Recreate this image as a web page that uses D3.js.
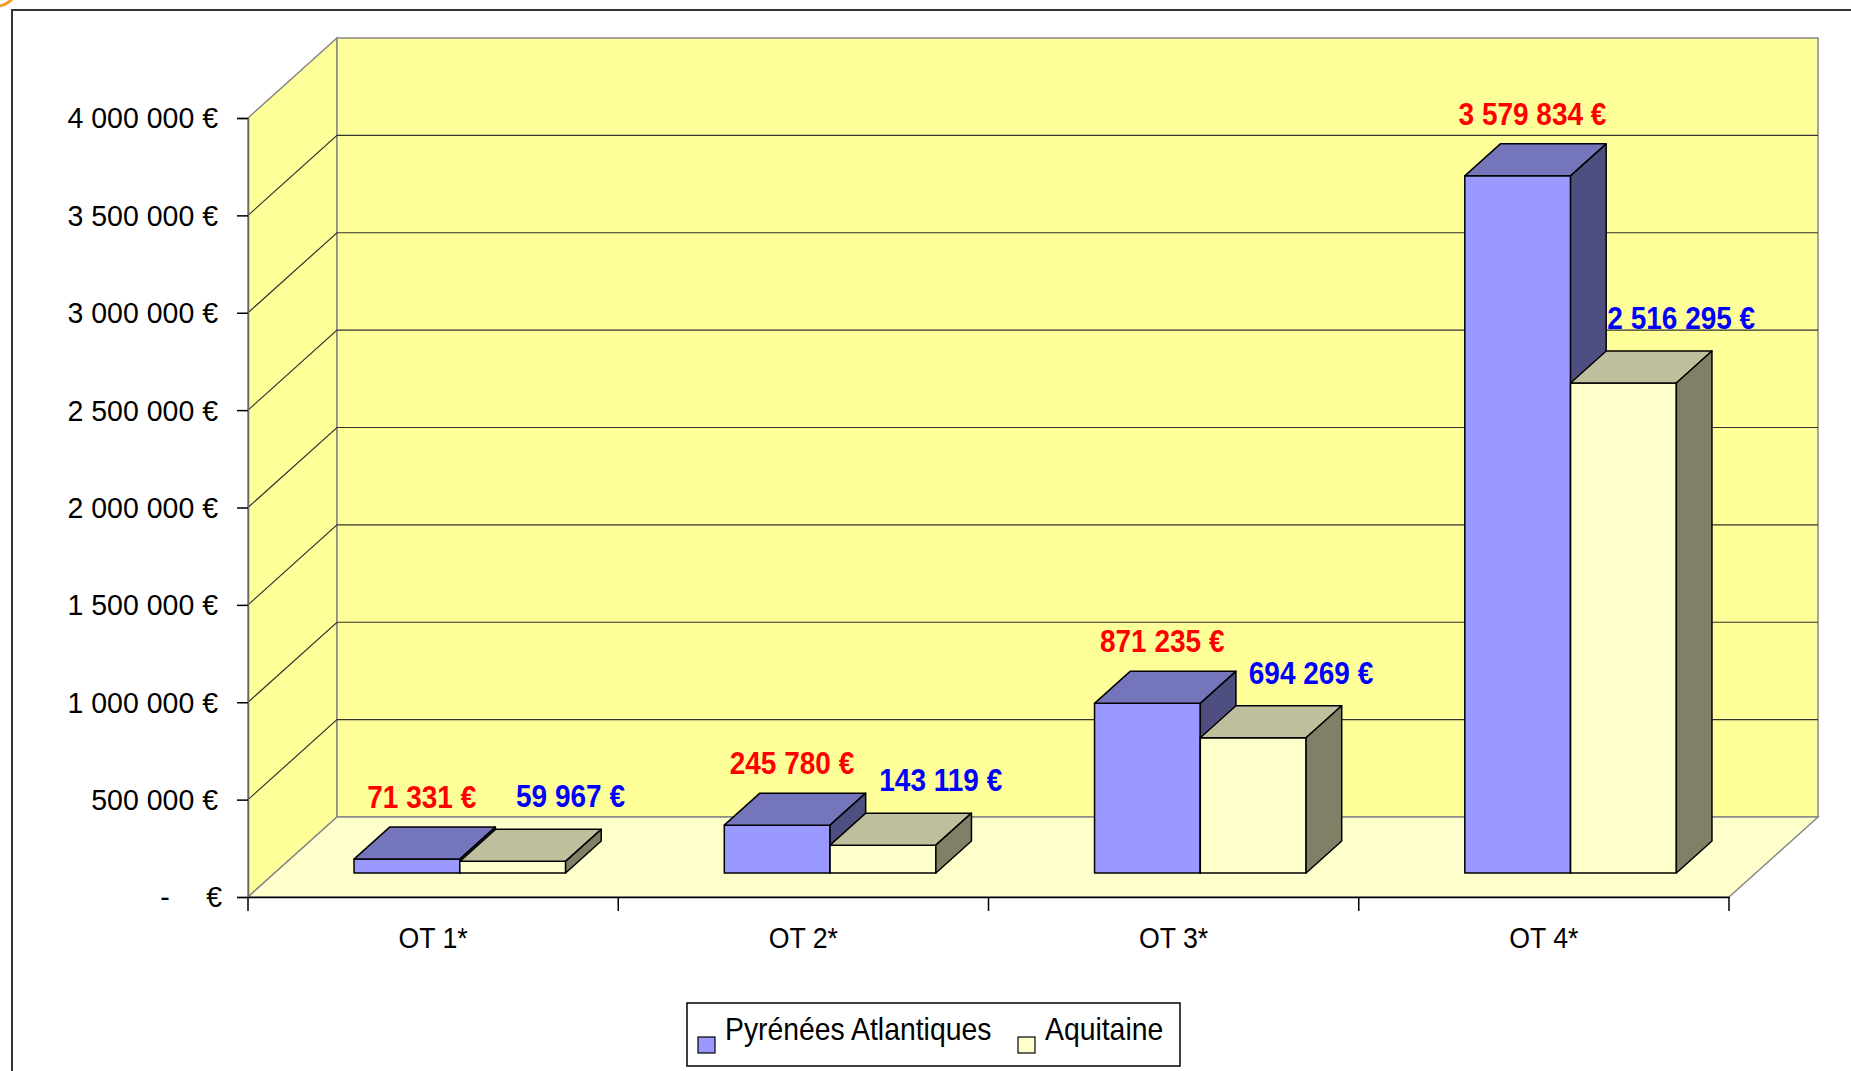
<!DOCTYPE html>
<html>
<head>
<meta charset="utf-8">
<script src="https://cdn.jsdelivr.net/npm/d3@7"></script>
<style>
  body { margin: 0; background: #fff; }
  text { font-family: "Liberation Sans", Arial, sans-serif; }
</style>
</head>
<body>
<div id="chart"></div>
<script>
// data
const categories = ["OT 1*", "OT 2*", "OT 3*", "OT 4*"];
const seriesNames = ["Pyrénées Atlantiques", "Aquitaine"];
const pyreneesValues = [71331, 245780, 871235, 3579834];
const aquitaineValues = [59967, 143119, 694269, 2516295];
const yTicks = [0, 500000, 1000000, 1500000, 2000000, 2500000, 3000000, 3500000, 4000000];

const width = 1851, height = 1071;
// front plane of the 3D box
const plotLeft = 248, plotRight = 1729, plotBottom = 897, plotTop = 118;
// depth offset of the box, bars sit between z0 and z1
const DX = 89, DY = 80;
const z0 = 0.3, z1 = 0.7;

const svg = d3.select("#chart")
    .append("svg")
    .attr("width", width)
    .attr("height", height);

// outer frame + little orange mark in the corner
svg.append("rect")
    .attr("x", 12).attr("y", 10)
    .attr("width", width + 20).attr("height", height + 20)
    .attr("fill", "none").attr("stroke", "#333").attr("stroke-width", 2);
svg.append("path")
    .attr("d", "M0,6 Q8,4 13,-2")
    .attr("fill", "none").attr("stroke", "#f39a2b").attr("stroke-width", 3);

const x = d3.scaleBand().domain(categories).range([plotLeft, plotRight]);
const xs = d3.scaleBand().domain(seriesNames).range([0, x.bandwidth()])
    .paddingInner(0).paddingOuter(0.75);
const y = d3.scaleLinear().domain([0, 4000000]).range([plotBottom, plotTop]);
const color = d3.scaleOrdinal().domain(seriesNames).range(["#9999FF", "#FFFFCC"]);
const topColor = d3.scaleOrdinal().domain(seriesNames).range(["#7575BB", "#BFBF9D"]);
const sideColor = d3.scaleOrdinal().domain(seriesNames).range(["#4E4E80", "#808066"]);
const labelColor = d3.scaleOrdinal().domain(seriesNames).range(["#FF0000", "#0000FF"]);

const locale = d3.formatLocale({ decimal: ",", thousands: " ", grouping: [3], currency: ["", " €"] });
const fmt = v => locale.format(",")(v) + " €";

const poly = pts => "M" + pts.map(p => p.join(",")).join("L") + "Z";
const yMax = y(4000000), y0 = y(0);

// walls and floor
svg.append("path")
    .attr("d", poly([[plotLeft, yMax], [plotLeft + DX, yMax - DY], [plotLeft + DX, y0 - DY], [plotLeft, y0]]))
    .attr("fill", "#FFFF99").attr("stroke", "#888").attr("stroke-width", 1.5);
svg.append("path")
    .attr("d", poly([[plotLeft + DX, yMax - DY], [plotRight + DX, yMax - DY], [plotRight + DX, y0 - DY], [plotLeft + DX, y0 - DY]]))
    .attr("fill", "#FFFF99").attr("stroke", "#888").attr("stroke-width", 1.5);
svg.append("path")
    .attr("d", poly([[plotLeft, y0], [plotRight, y0], [plotRight + DX, y0 - DY], [plotLeft + DX, y0 - DY]]))
    .attr("fill", "#FFFFCC").attr("stroke", "#888").attr("stroke-width", 1.5);

// gridlines
const grid = svg.append("g").attr("stroke", "#333").attr("stroke-width", 1.2).attr("fill", "none");
yTicks.filter(v => v > 0 && v < 4000000).forEach(v => {
    grid.append("path")
        .attr("d", `M${plotLeft},${y(v)}L${plotLeft + DX},${y(v) - DY}L${plotRight + DX},${y(v) - DY}`);
});

// y axis
const yAxis = svg.append("g")
    .attr("transform", `translate(${plotLeft},0)`)
    .call(d3.axisLeft(y).tickValues(yTicks).tickSize(11).tickPadding(0)
        .tickFormat(v => v === 0 ? "€" : fmt(v)));
yAxis.select(".domain").attr("stroke", "#666").attr("stroke-width", 1.5);
yAxis.selectAll(".tick line").attr("stroke", "#000").attr("stroke-width", 1.5);
yAxis.selectAll(".tick text")
    .attr("x", v => (v === 0 ? -26 : -30) / 0.95)
    .attr("dy", "0.33em")
    .attr("transform", "scale(0.95,1)")
    .attr("fill", "#000")
    .style("font-size", "30px")
    .style("font-family", "'Liberation Sans', Arial, sans-serif");
yAxis.selectAll(".tick").filter(v => v === 0)
    .append("text")
    .attr("x", -83 / 0.95)
    .attr("dy", "0.33em")
    .attr("transform", "scale(0.95,1)")
    .attr("text-anchor", "middle")
    .attr("fill", "#000")
    .style("font-size", "30px")
    .text("-");

// x axis
const xAxis = svg.append("g")
    .attr("transform", `translate(0,${plotBottom})`)
    .call(d3.axisBottom(x).tickSize(0).tickPadding(0));
xAxis.select(".domain").attr("stroke", "#000").attr("stroke-width", 1.5);
xAxis.selectAll(".tick text")
    .attr("y", 0)
    .attr("dy", 0)
    .attr("transform", "translate(0,51) scale(0.92,1)")
    .attr("fill", "#000")
    .style("font-size", "29px")
    .style("font-family", "'Liberation Sans', Arial, sans-serif");
xAxis.selectAll(".sep")
    .data(categories.map(c => x(c)).concat([plotRight]))
    .join("line")
    .attr("class", "sep")
    .attr("x1", d => d).attr("x2", d => d)
    .attr("y1", 0).attr("y2", 14)
    .attr("stroke", "#000").attr("stroke-width", 1.5);

// bars
const bars = [];
categories.forEach((c, i) => {
    bars.push({ cat: c, series: seriesNames[0], value: pyreneesValues[i] });
    bars.push({ cat: c, series: seriesNames[1], value: aquitaineValues[i] });
});
const w = xs.bandwidth();
const ddx = (z1 - z0) * DX, ddy = (z1 - z0) * DY;

const barG = svg.append("g").selectAll("g.bar")
    .data(bars)
    .join("g")
    .attr("class", "bar")
    .attr("stroke", "#000")
    .attr("stroke-width", 1.5)
    .attr("stroke-linejoin", "round");

barG.each(function (d) {
    const g = d3.select(this);
    const bx = x(d.cat) + xs(d.series) + z0 * DX;
    const yt = y(d.value) - z0 * DY;
    const yb = y(0) - z0 * DY;
    d.bx = bx; d.yt = yt;
    g.append("path")
        .attr("d", poly([[bx, yb], [bx, yt], [bx + w, yt], [bx + w, yb]]))
        .attr("fill", color(d.series));
    g.append("path")
        .attr("d", poly([[bx, yt], [bx + ddx, yt - ddy], [bx + w + ddx, yt - ddy], [bx + w, yt]]))
        .attr("fill", topColor(d.series));
    g.append("path")
        .attr("d", poly([[bx + w, yt], [bx + w + ddx, yt - ddy], [bx + w + ddx, yb - ddy], [bx + w, yb]]))
        .attr("fill", sideColor(d.series));
});

// data labels
svg.append("g").selectAll("text.lbl")
    .data(bars)
    .join("text")
    .attr("class", "lbl")
    .attr("text-anchor", "middle")
    .attr("transform", d => {
        const cx = d.bx + w / 2 + ddx / 2 + (d.series === seriesNames[0] ? -3 : 40);
        const cy = d.yt - ddy - (d.series === seriesNames[0] ? 19 : 22);
        return `translate(${cx},${cy}) scale(0.875,1)`;
    })
    .attr("fill", d => labelColor(d.series))
    .style("font-size", "32px")
    .style("font-weight", "bold")
    .text(d => fmt(d.value));

// legend
const legend = svg.append("g");
legend.append("rect")
    .attr("x", 687).attr("y", 1003)
    .attr("width", 493).attr("height", 63)
    .attr("fill", "#fff").attr("stroke", "#000").attr("stroke-width", 1.5);
const legendX = [698, 1018];
const item = legend.selectAll("g.item")
    .data(seriesNames)
    .join("g")
    .attr("class", "item")
    .attr("transform", (d, i) => `translate(${legendX[i]},0)`);
item.append("rect")
    .attr("x", 0).attr("y", 1037)
    .attr("width", 17).attr("height", 16)
    .attr("fill", d => color(d))
    .attr("stroke", "#000").attr("stroke-width", 1.2);
item.append("text")
    .attr("transform", "translate(27,1040) scale(0.93,1)")
    .style("font-size", "30.5px")
    .attr("fill", "#000")
    .text(d => d);
</script>
</body>
</html>
